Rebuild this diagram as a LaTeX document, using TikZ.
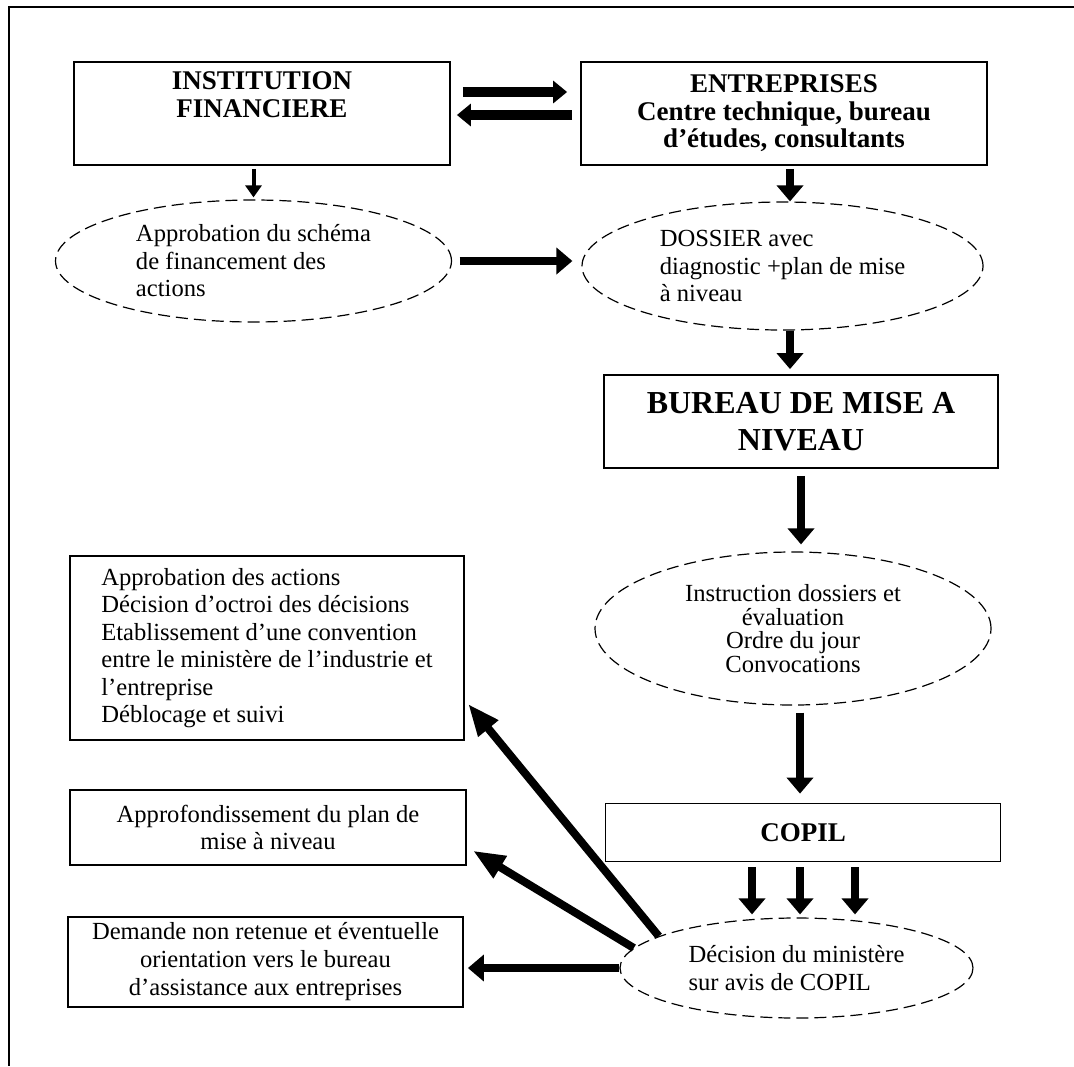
\documentclass[tikz,border=0pt]{standalone}
\usepackage{fontspec}
\setmainfont{Liberation Serif}
\usetikzlibrary{arrows.meta}
\usetikzlibrary{shapes.geometric}

\begin{document}
\begin{tikzpicture}[x=0.5pt,y=-0.5pt,
  boite/.style={draw,line width=0.9pt,inner sep=2pt,align=center,font=\fontsize{12.3}{13.75}\selectfont},
  ovale/.style={ellipse,draw,dash pattern=on 6pt off 3pt,line width=0.6pt,inner sep=0pt,font=\fontsize{12.3}{13.75}\selectfont},
  titre/.style={font=\bfseries\fontsize{13.5}{13.75}\selectfont},
  fleche/.style={line width=4pt,-{Triangle[width=13pt,length=8pt]}},
  pointe/.style={line width=4pt,-{Triangle[width=12pt,length=16pt]}},
  twin/.style={line width=5pt,-{Triangle[width=11pt,length=7pt]}},
  mince/.style={line width=2pt,-{Triangle[width=8pt,length=6pt]}}]
\useasboundingbox (0,0) rectangle (1074,1066);
\draw[line width=1pt] (1074,7) -- (9,7) -- (9,1066);

\node[boite,titre,minimum width=188pt,minimum height=51.5pt] (inst) at (262,113.5) {INSTITUTION\\FINANCIERE\\[5pt]~};
\node[boite,titre,minimum width=203pt,minimum height=51.5pt] (entr) at (784,113.5) {ENTREPRISES\\Centre technique, bureau\\d'études, consultants};
\node[ovale,minimum width=198pt,minimum height=61pt,align=left] (appro) at (253.5,261) {Approbation du schéma\\de financement des\\actions};
\node[ovale,minimum width=200.5pt,minimum height=64pt,align=left] (dossier) at (782.5,266) {DOSSIER avec\\diagnostic +plan de mise\\à niveau};
\node[boite,font=\bfseries\fontsize{16}{18.5}\selectfont,minimum width=197pt,minimum height=46.5pt] (bureau) at (801,421.5) {BUREAU DE MISE A\\NIVEAU};
\node[ovale,font=\fontsize{12.3}{11.8}\selectfont,minimum width=198pt,minimum height=76.5pt,align=center] (instr) at (793,628.5) {Instruction dossiers et\\évaluation\\Ordre du jour\\Convocations};
\node[boite,align=left,minimum width=197pt,minimum height=92pt] (actions) at (267,648) {Approbation des actions\\Décision d'octroi des décisions\\Etablissement d'une convention\\entre le ministère de l'industrie et\\l'entreprise\\Déblocage et suivi};
\node[boite,titre,minimum width=197.5pt,minimum height=29pt] (copil) at (803,832.5) {COPIL};
\node[boite,minimum width=198pt,minimum height=37.5pt] (approf) at (268,827.5) {Approfondissement du plan de\\mise à niveau};
\node[boite,font=\fontsize{12.3}{14}\selectfont,minimum width=197.5pt,minimum height=45pt] (refus) at (265.5,962) {Demande non retenue et éventuelle\\orientation vers le bureau\\d'assistance aux entreprises};
\node[ovale,minimum width=176.5pt,minimum height=50pt,align=left] (decision) at (796.5,968) {Décision du ministère\\sur avis de COPIL};

\draw[twin,shorten <=6pt,shorten >=6.5pt] ([yshift=10.75pt]inst.east) -- ([yshift=10.75pt]entr.west);
\draw[twin,shorten <=4pt,shorten >=3pt] ([yshift=-0.75pt]entr.west) -- ([yshift=-0.75pt]inst.east);
\draw[mince,shorten <=1.5pt,shorten >=1pt] (inst.south -| appro.north) -- (appro.north);
\draw[fleche,shorten <=1.5pt] ([xshift=3pt]entr.south) -- ([xshift=3pt]entr.south |- dossier.north);
\draw[fleche,shorten <=3.75pt,shorten >=4.5pt] (appro.east) -- (appro.east -| dossier.west);
\draw[fleche,shorten >=2.5pt] ([xshift=3.75pt]dossier.south) -- ([xshift=3.75pt]dossier.south |- bureau.north);
\draw[fleche,shorten <=3.5pt,shorten >=3.5pt] (bureau.south) -- (bureau.south |- instr.north);
\draw[fleche,shorten <=3.5pt,shorten >=4.5pt] ([xshift=3.5pt]instr.south) -- ([xshift=3.5pt]instr.south |- copil.north);
\foreach \dx in {-25.5,-1.5,26}
  \draw[fleche,shorten <=2.5pt,shorten >=1.5pt] ([xshift=\dx pt]copil.south) -- ([xshift=\dx pt]copil.south |- decision.north);
\draw[fleche,shorten >=2pt] (decision.west) -- (decision.west -| refus.east);
\draw[pointe,shorten >=3.5pt] (decision.173) -- ([yshift=-9.75pt]approf.east);
\draw[pointe,shorten >=2.5pt] (decision.167) -- ([yshift=-26pt]actions.east);

\end{tikzpicture}
\end{document}
